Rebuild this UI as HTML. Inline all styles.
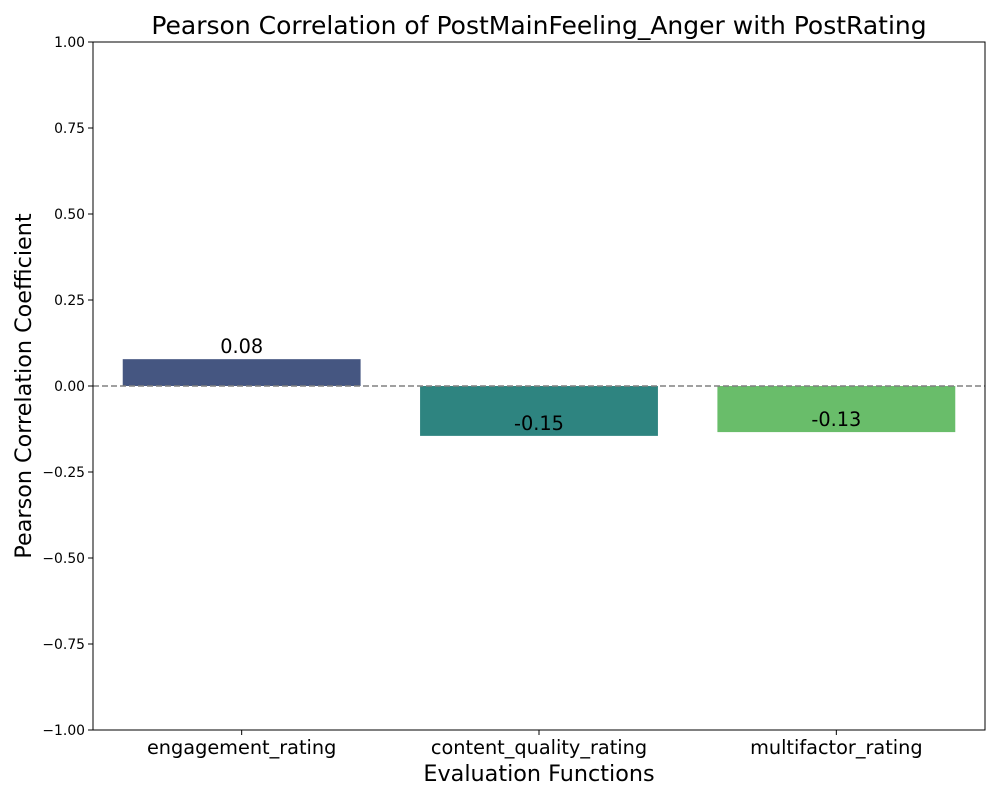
<!DOCTYPE html>
<html><head><meta charset="utf-8"><style>
body{margin:0;background:#fff;font-family:"DejaVu Sans",sans-serif}
</style></head><body>
<svg id="chart" width="1000" height="800" xmlns="http://www.w3.org/2000/svg" font-family="DejaVu Sans, sans-serif">
<rect width="1000" height="800" fill="#fff"/>
<text x="539" y="34" font-size="25" text-anchor="middle">Pearson Correlation of PostMainFeeling_Anger with PostRating</text>
<text x="539" y="781" font-size="22.3" text-anchor="middle">Evaluation Functions</text>
<text transform="translate(31,386) rotate(-90)" font-size="22.3" text-anchor="middle">Pearson Correlation Coefficient</text>
<g id="plot"></g>
</svg>
<script>
const categories=["engagement_rating","content_quality_rating","multifactor_rating"];
const values=[0.078,-0.145,-0.134];
const valueLabels=["0.08","-0.15","-0.13"];
const colors=["#455681","#2e8480","#69bd6a"];
const yTicks=[-1,-0.75,-0.5,-0.25,0,0.25,0.5,0.75,1];
const yTickLabels=["\u22121.00","\u22120.75","\u22120.50","\u22120.25","0.00","0.25","0.50","0.75","1.00"];
const L=93,R=985,T=42,B=730;
const y=v=>B-(v+1)/2*(B-T);
const step=(R-L)/categories.length;
const xc=i=>L+step*(i+0.5);
const bw=step*0.8;
const g=document.getElementById('plot');
const NS="http://www.w3.org/2000/svg";
function mk(t,a){const e=document.createElementNS(NS,t);for(const k in a)e.setAttribute(k,a[k]);g.appendChild(e);return e;}
values.forEach((v,i)=>{
 const r=mk('rect',{x:xc(i)-bw/2,y:Math.min(y(v),y(0)),width:bw,height:Math.abs(y(v)-y(0)),fill:colors[i]});
 
 
 const t=mk('text',{x:xc(i),y:y(v)-6,'font-size':19.3,'text-anchor':'middle'});
 t.textContent=valueLabels[i];
 
 
 const tk=mk('line',{x1:xc(i),x2:xc(i),y1:B,y2:B+5,stroke:'#000'});
 
 
 const xl=mk('text',{x:xc(i),y:B+24,'font-size':19.3,'text-anchor':'middle'});
 xl.textContent=categories[i];
 
 
});
yTicks.forEach((v,i)=>{
 const tk=mk('line',{x1:L-5,x2:L,y1:y(v),y2:y(v),stroke:'#000'});
 
 
 const t=mk('text',{x:L-8,y:y(v)+5,'font-size':13.9,'text-anchor':'end'});
 t.textContent=yTickLabels[i];
 
 
});
const z=mk('line',{x1:L,x2:R,y1:y(0),y2:y(0),stroke:'#808080','stroke-width':1.6,'stroke-dasharray':'6,3'});


const f=mk('rect',{x:L,y:T,width:R-L,height:B-T,fill:'none',stroke:'#000'});


</script>
</body></html>
